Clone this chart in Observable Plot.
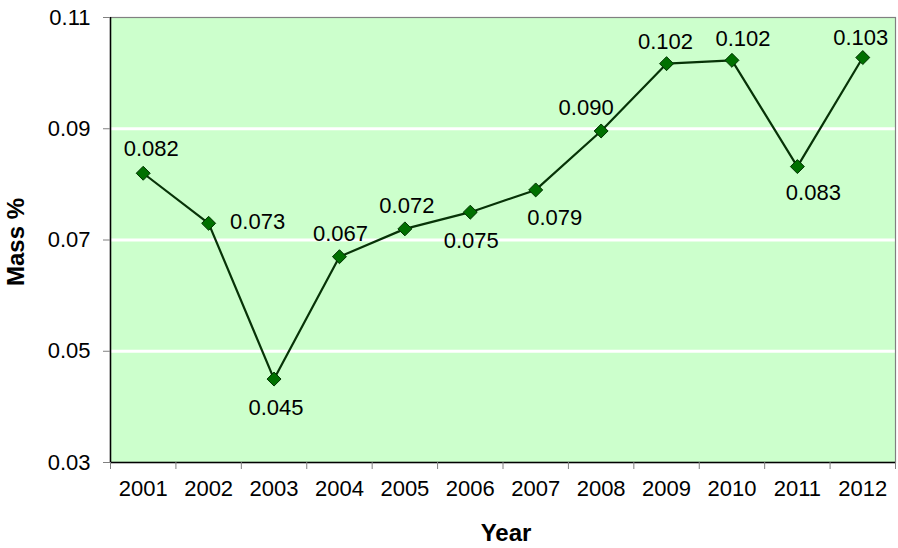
<!DOCTYPE html>
<html>
<head>
<meta charset="utf-8">
<script src="https://cdn.jsdelivr.net/npm/d3@7"></script>
<script src="https://cdn.jsdelivr.net/npm/@observablehq/plot@0.6"></script>
<style>
  html, body { margin: 0; padding: 0; background: #ffffff; }
  #chart { width: 898px; height: 548px; }
  svg { font-family: "Liberation Sans", Arial, sans-serif; }
</style>
</head>
<body>
<div id="chart"></div>
<script>
// ---- data ----
const years = [2001, 2002, 2003, 2004, 2005, 2006, 2007, 2008, 2009, 2010, 2011, 2012];
const massPct = [0.082, 0.073, 0.045, 0.067, 0.072, 0.075, 0.079, 0.0896, 0.1017, 0.1023, 0.0832, 0.1028];
const yTicks = [0.03, 0.05, 0.07, 0.09, 0.11];
const yLabel = "Mass %";
const xLabel = "Year";

// ---- layout / style (not data) ----
const labelOffsets = {
  2001: [8, -24], 2002: [49, -1], 2003: [2, 29], 2004: [1, -23],
  2005: [2, -23], 2006: [1, 29], 2007: [19, 28], 2008: [-15, -23],
  2009: [-1, -22], 2010: [11, -21], 2011: [16, 26], 2012: [-2, -20]
};
const FONT = 22;
const TITLE_FONT = 24;

const table = years.map((year, i) => ({ year, value: massPct[i] }));
const boundaries = d3.range(years.length + 1).map(i => years[0] - 0.5 + i);
const gridValues = yTicks.slice(1, -1);
const fmt = d3.format(".3f");

const labelMarks = years.map(yr => {
  const [dx, dy] = labelOffsets[yr];
  return Plot.text(table.filter(d => d.year === yr), {
    x: "year", y: "value", text: d => fmt(d.value),
    dx, dy, fontSize: FONT, fill: "#000", lineAnchor: "middle", textAnchor: "middle"
  });
});

const chart = Plot.plot({
  width: 898,
  height: 548,
  marginLeft: 110,
  marginRight: 3,
  marginTop: 17,
  marginBottom: 86,
  style: { fontFamily: '"Liberation Sans", Arial, sans-serif', background: "#ffffff" },
  x: { domain: [boundaries[0], boundaries[boundaries.length - 1]] },
  y: { domain: [yTicks[0], yTicks[yTicks.length - 1]] },
  marks: [
    Plot.frame({ fill: "#ccffcc", stroke: null }),
    Plot.ruleY(gridValues, { stroke: "#ffffff", strokeWidth: 3 }),
    Plot.frame({ stroke: "#808080", strokeWidth: 1.2 }),
    Plot.ruleX([boundaries[0]], { stroke: "#000000", strokeWidth: 1.5 }),
    Plot.ruleY([yTicks[0]], { stroke: "#000000", strokeWidth: 1.5 }),
    Plot.axisY({ ticks: yTicks, tickFormat: d3.format(".2f"), tickSize: 7, tickPadding: 13,
      fontSize: FONT, stroke: "#808080", color: "#000", label: null }),
    Plot.axisX(boundaries, { tickSize: 7, tickFormat: () => "", stroke: "#808080", label: null }),
    Plot.axisX(years, { tickSize: 0, tickPadding: 18, tickFormat: d => String(d),
      fontSize: FONT, color: "#000", label: null }),
    Plot.line(table, { x: "year", y: "value", stroke: "#073307", strokeWidth: 2.2 }),
    Plot.dot(table, { x: "year", y: "value", symbol: "diamond2", r: 6.3,
      fill: "#007000", stroke: "#003300", strokeWidth: 1 }),
    ...labelMarks,
    Plot.text([xLabel], { frameAnchor: "bottom", dy: 71, dx: 3, text: d => d,
      fontSize: TITLE_FONT, fontWeight: "bold", fill: "#000", lineAnchor: "middle", textAnchor: "middle" }),
    Plot.text([yLabel], { frameAnchor: "left", dx: -94, dy: 2, rotate: -90, text: d => d,
      fontSize: TITLE_FONT, fontWeight: "bold", fill: "#000", lineAnchor: "middle", textAnchor: "middle" })
  ]
});

document.getElementById("chart").appendChild(chart);
</script>
</body>
</html>
